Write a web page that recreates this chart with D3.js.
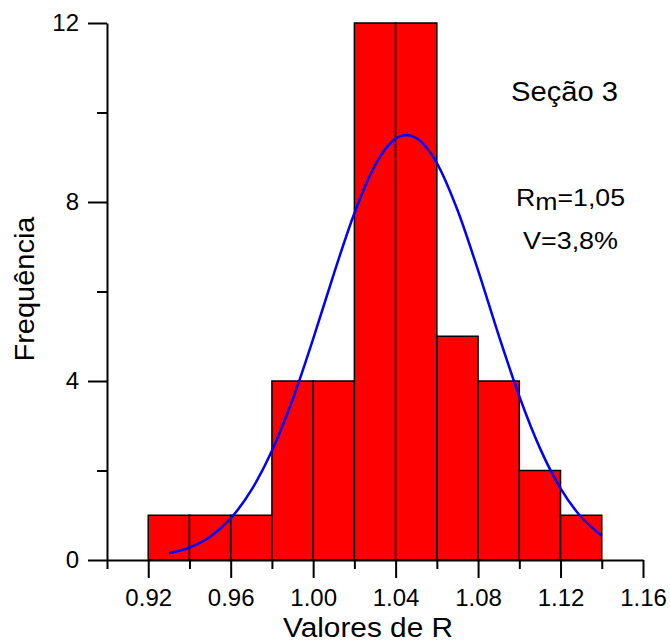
<!DOCTYPE html>
<html>
<head>
<meta charset="utf-8">
<script src="https://cdn.jsdelivr.net/npm/d3@7"></script>
<style>
  body { margin: 0; background: #fff; }
  text { font-family: "Liberation Sans", Arial, sans-serif; fill: #000; }
</style>
</head>
<body>
<svg id="chart" width="670" height="642"></svg>
<script>
// histogram bins (left edge, width 0.02) and counts
const binStarts = [0.92, 0.94, 0.96, 0.98, 1.00, 1.02, 1.04, 1.06, 1.08, 1.10, 1.12];
const binCounts = [1, 1, 1, 4, 4, 12, 12, 5, 4, 2, 1];
const binWidth = 0.02;

// fitted normal curve
const curveX = [0.93, 0.94, 0.95, 0.96, 0.97, 0.98, 0.99, 1.00, 1.01, 1.02, 1.03, 1.04, 1.045, 1.05, 1.06, 1.07, 1.08, 1.09, 1.10, 1.11, 1.12, 1.13, 1.14];
const curveY = [0.15, 0.28, 0.52, 0.93, 1.56, 2.44, 3.58, 4.94, 6.39, 7.75, 8.82, 9.42, 9.50, 9.43, 8.87, 7.82, 6.47, 5.02, 3.66, 2.50, 1.60, 0.96, 0.54];

// tick values
const xMajorTicks = [0.92, 0.96, 1.00, 1.04, 1.08, 1.12, 1.16];
const xMinorTicks = [0.90, 0.94, 0.98, 1.02, 1.06, 1.10, 1.14];
const yMajorTicks = [0, 4, 8, 12];
const yMinorTicks = [2, 6, 10];

const svg = d3.select('#chart');

// plot area
const plotLeft = 107, plotRight = 643, plotTop = 23, plotBottom = 560;

const x = d3.scaleLinear().domain([0.90, 1.16]).range([plotLeft, plotRight]);
const y = d3.scaleLinear().domain([0, 12]).range([plotBottom, plotTop]);

// bars
svg.append('g')
  .selectAll('rect')
  .data(binStarts)
  .join('rect')
    .attr('x', (d) => x(d))
    .attr('y', (d, i) => y(binCounts[i]))
    .attr('width', (d) => x(d + binWidth) - x(d))
    .attr('height', (d, i) => y(0) - y(binCounts[i]))
    .attr('fill', '#ff0000')
    .attr('stroke', '#000')
    .attr('stroke-width', 1.5);

// normal curve
const line = d3.line()
  .x((d) => x(d[0]))
  .y((d) => y(d[1]))
  .curve(d3.curveMonotoneX);

svg.append('path')
  .datum(curveX.map((v, i) => [v, curveY[i]]))
  .attr('fill', 'none')
  .attr('stroke', '#0000ff')
  .attr('stroke-width', 2.5)
  .attr('d', line);

// axes: majors with labels, minors short without
function styleAxis(g) {
  g.selectAll('path, line').attr('stroke', '#000').attr('stroke-width', 2);
  g.selectAll('text').attr('font-size', 24).attr('fill', '#000')
    .attr('font-family', '"Liberation Sans", Arial, sans-serif');
}

svg.append('g')
  .attr('transform', `translate(0,${plotBottom})`)
  .call(d3.axisBottom(x).tickValues(xMajorTicks).tickSize(18).tickSizeOuter(0).tickPadding(11)
    .tickFormat(d3.format('.2f')))
  .call(styleAxis);

svg.append('g')
  .attr('transform', `translate(0,${plotBottom})`)
  .call(d3.axisBottom(x).tickValues(xMinorTicks).tickSize(9).tickSizeOuter(0).tickFormat(''))
  .call((g) => g.select('.domain').remove())
  .call(styleAxis);

svg.append('g')
  .attr('transform', `translate(${plotLeft},0)`)
  .call(d3.axisLeft(y).tickValues(yMajorTicks).tickSize(19).tickSizeOuter(0).tickPadding(9)
    .tickFormat(d3.format('d')))
  .call(styleAxis);

svg.append('g')
  .attr('transform', `translate(${plotLeft},0)`)
  .call(d3.axisLeft(y).tickValues(yMinorTicks).tickSize(10).tickSizeOuter(0).tickFormat(''))
  .call((g) => g.select('.domain').remove())
  .call(styleAxis);

// axis titles (the original font is a bit wider than Arial, so stretch to the measured widths)
svg.append('text')
  .attr('x', 283)
  .attr('y', 637)
  .attr('font-size', 27)
  .attr('textLength', 170)
  .attr('lengthAdjust', 'spacingAndGlyphs')
  .text('Valores de R');

svg.append('text')
  .attr('transform', 'translate(34,289) rotate(-90)')
  .attr('text-anchor', 'middle')
  .attr('font-size', 27)
  .attr('textLength', 145)
  .attr('lengthAdjust', 'spacingAndGlyphs')
  .text('Frequência');

// annotations
svg.append('text')
  .attr('x', 511)
  .attr('y', 101)
  .attr('font-size', 28)
  .attr('textLength', 107)
  .attr('lengthAdjust', 'spacingAndGlyphs')
  .text('Seção 3');

const rm = svg.append('text')
  .attr('x', 516)
  .attr('y', 206)
  .attr('font-size', 24)
  .attr('textLength', 109)
  .attr('lengthAdjust', 'spacingAndGlyphs');
rm.append('tspan').text('R');
rm.append('tspan').attr('dy', 4).text('m');
rm.append('tspan').attr('dy', -4).text('=1,05');

svg.append('text')
  .attr('x', 523)
  .attr('y', 249)
  .attr('font-size', 24)
  .attr('textLength', 95)
  .attr('lengthAdjust', 'spacingAndGlyphs')
  .text('V=3,8%');
</script>
</body>
</html>
